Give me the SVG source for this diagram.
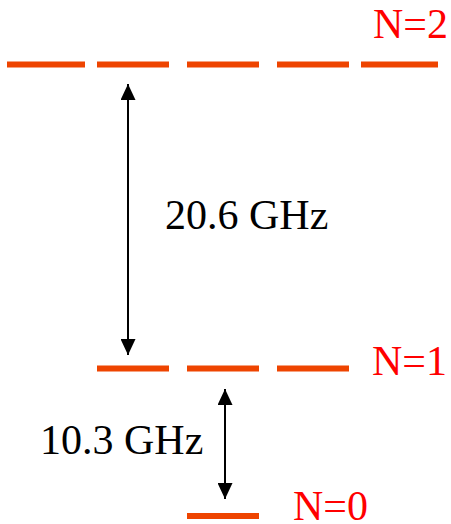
<svg xmlns="http://www.w3.org/2000/svg" width="451" height="524" viewBox="0 0 451 524">
<style>
.lvl{stroke:#EE4400;stroke-width:6;fill:none}
.lab{font-family:"Liberation Serif",serif;font-size:42px;fill:#FF0000}
.txt{font-family:"Liberation Serif",serif;font-size:42px;fill:#000}
.arr{stroke:#000;stroke-width:2;fill:none;marker-start:url(#ah);marker-end:url(#ah)}
</style>
<defs>
<marker id="ah" markerWidth="16" markerHeight="15" refX="16" refY="7.5" orient="auto-start-reverse" markerUnits="userSpaceOnUse">
<path d="M0,0 L16,7.5 L0,15 Z" fill="#000"/>
</marker>
</defs>
<rect width="451" height="524" fill="#fff"/>
<g id="level-n2">
<line class="lvl" x1="7" y1="64.5" x2="85" y2="64.5"/>
<line class="lvl" x1="97" y1="64.5" x2="169" y2="64.5"/>
<line class="lvl" x1="187" y1="64.5" x2="259" y2="64.5"/>
<line class="lvl" x1="277" y1="64.5" x2="349" y2="64.5"/>
<line class="lvl" x1="361" y1="64.5" x2="438" y2="64.5"/>
<text class="lab" x="373" y="38">N=2</text>
</g>
<g id="level-n1">
<line class="lvl" x1="97" y1="368.5" x2="169" y2="368.5"/>
<line class="lvl" x1="187" y1="368.5" x2="259" y2="368.5"/>
<line class="lvl" x1="277" y1="368.5" x2="349" y2="368.5"/>
<text class="lab" x="372" y="375">N=1</text>
</g>
<g id="level-n0">
<line class="lvl" x1="187" y1="516" x2="259" y2="516"/>
<text class="lab" x="293" y="520">N=0</text>
</g>
<g id="connectors">
<line class="arr" x1="128" y1="84" x2="128" y2="355"/>
<line class="arr" x1="225" y1="389" x2="225" y2="499"/>
</g>
<g id="labels">
<text class="txt" x="165" y="229">20.6 GHz</text>
<text class="txt" x="40" y="454">10.3 GHz</text>
</g>
</svg>
